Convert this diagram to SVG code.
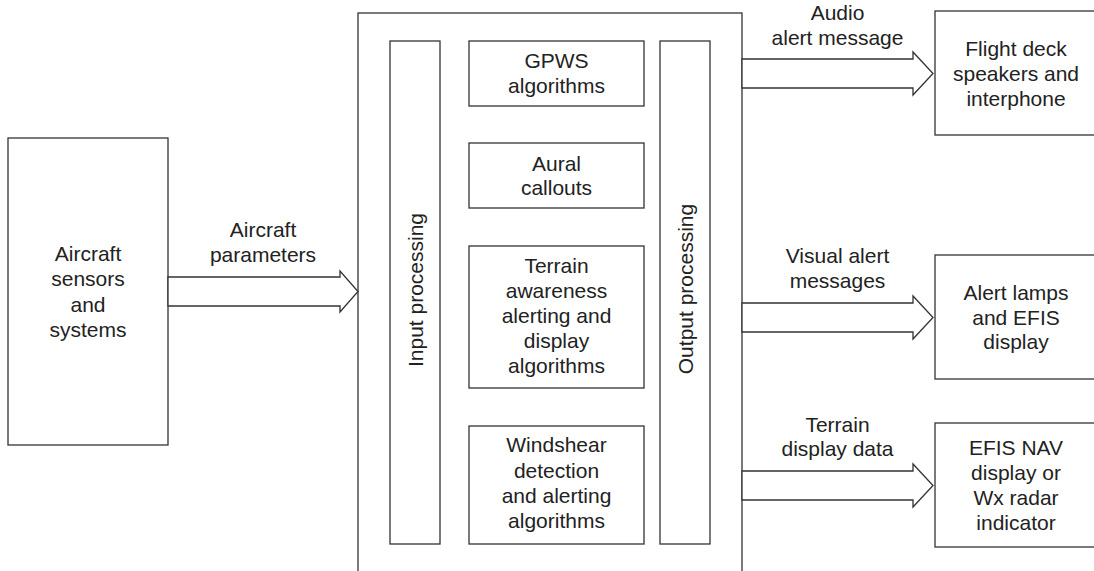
<svg xmlns="http://www.w3.org/2000/svg" width="1094" height="571" viewBox="0 0 1094 571">
<style>
.box{fill:#fff;stroke:#333;stroke-width:1.3}
.arr{fill:#fff;stroke:#333;stroke-width:1.3;stroke-linejoin:miter}
text{font-family:"Liberation Sans",Arial,sans-serif;font-size:21px;fill:#222;text-anchor:middle}
</style>
<rect width="1094" height="571" fill="#fff"/>
<g id="main">
<rect class="box" x="358" y="13" width="384" height="600"/>
</g>
<g id="sensors">
<rect class="box" x="8" y="138" width="160" height="307"/>
<text x="88" y="261">Aircraft</text>
<text x="88" y="286">sensors</text>
<text x="88" y="312">and</text>
<text x="88" y="337">systems</text>
</g>
<g id="input">
<rect class="box" x="390" y="41" width="50" height="503"/>
<text transform="translate(423,290) rotate(-90)">Input processing</text>
</g>
<g id="output">
<rect class="box" x="660" y="41" width="50" height="503"/>
<text transform="translate(693,289) rotate(-90)">Output processing</text>
</g>
<g id="gpws">
<rect class="box" x="469" y="41" width="175" height="65"/>
<text x="556.5" y="68">GPWS</text>
<text x="556.5" y="93">algorithms</text>
</g>
<g id="aural">
<rect class="box" x="469" y="143" width="175" height="65"/>
<text x="556.5" y="171">Aural</text>
<text x="556.5" y="195">callouts</text>
</g>
<g id="terrain">
<rect class="box" x="469" y="246" width="175" height="142"/>
<text x="556.5" y="273">Terrain</text>
<text x="556.5" y="298">awareness</text>
<text x="556.5" y="323">alerting and</text>
<text x="556.5" y="348">display</text>
<text x="556.5" y="373">algorithms</text>
</g>
<g id="windshear">
<rect class="box" x="469" y="426" width="175" height="118"/>
<text x="556.5" y="452">Windshear</text>
<text x="556.5" y="478">detection</text>
<text x="556.5" y="503">and alerting</text>
<text x="556.5" y="528">algorithms</text>
</g>
<g id="flightdeck">
<rect class="box" x="935" y="11" width="200" height="124"/>
<text x="1016" y="56">Flight deck</text>
<text x="1016" y="81">speakers and</text>
<text x="1016" y="106">interphone</text>
</g>
<g id="lamps">
<rect class="box" x="935" y="255" width="200" height="124"/>
<text x="1016" y="300">Alert lamps</text>
<text x="1016" y="325">and EFIS</text>
<text x="1016" y="349">display</text>
</g>
<g id="efisnav">
<rect class="box" x="935" y="423" width="200" height="124"/>
<text x="1016" y="455">EFIS NAV</text>
<text x="1016" y="480">display or</text>
<text x="1016" y="505">Wx radar</text>
<text x="1016" y="530">indicator</text>
</g>
<g id="connectors">
<path class="arr" d="M168,277 L340,277 L340,271 L358,291.5 L340,312 L340,306 L168,306 Z"/>
<text x="263" y="237">Aircraft</text>
<text x="263" y="262">parameters</text>
<path class="arr" d="M742,59 L913,59 L913,52 L933,73.5 L913,95 L913,88 L742,88 Z"/>
<text x="837.5" y="20">Audio</text>
<text x="837.5" y="45">alert message</text>
<path class="arr" d="M742,303 L913,303 L913,296 L933,317.5 L913,339 L913,332 L742,332 Z"/>
<text x="837.5" y="263">Visual alert</text>
<text x="837.5" y="288">messages</text>
<path class="arr" d="M742,471 L913,471 L913,464 L933,485.5 L913,507 L913,500 L742,500 Z"/>
<text x="837.5" y="432">Terrain</text>
<text x="837.5" y="456">display data</text>
</g>
</svg>
